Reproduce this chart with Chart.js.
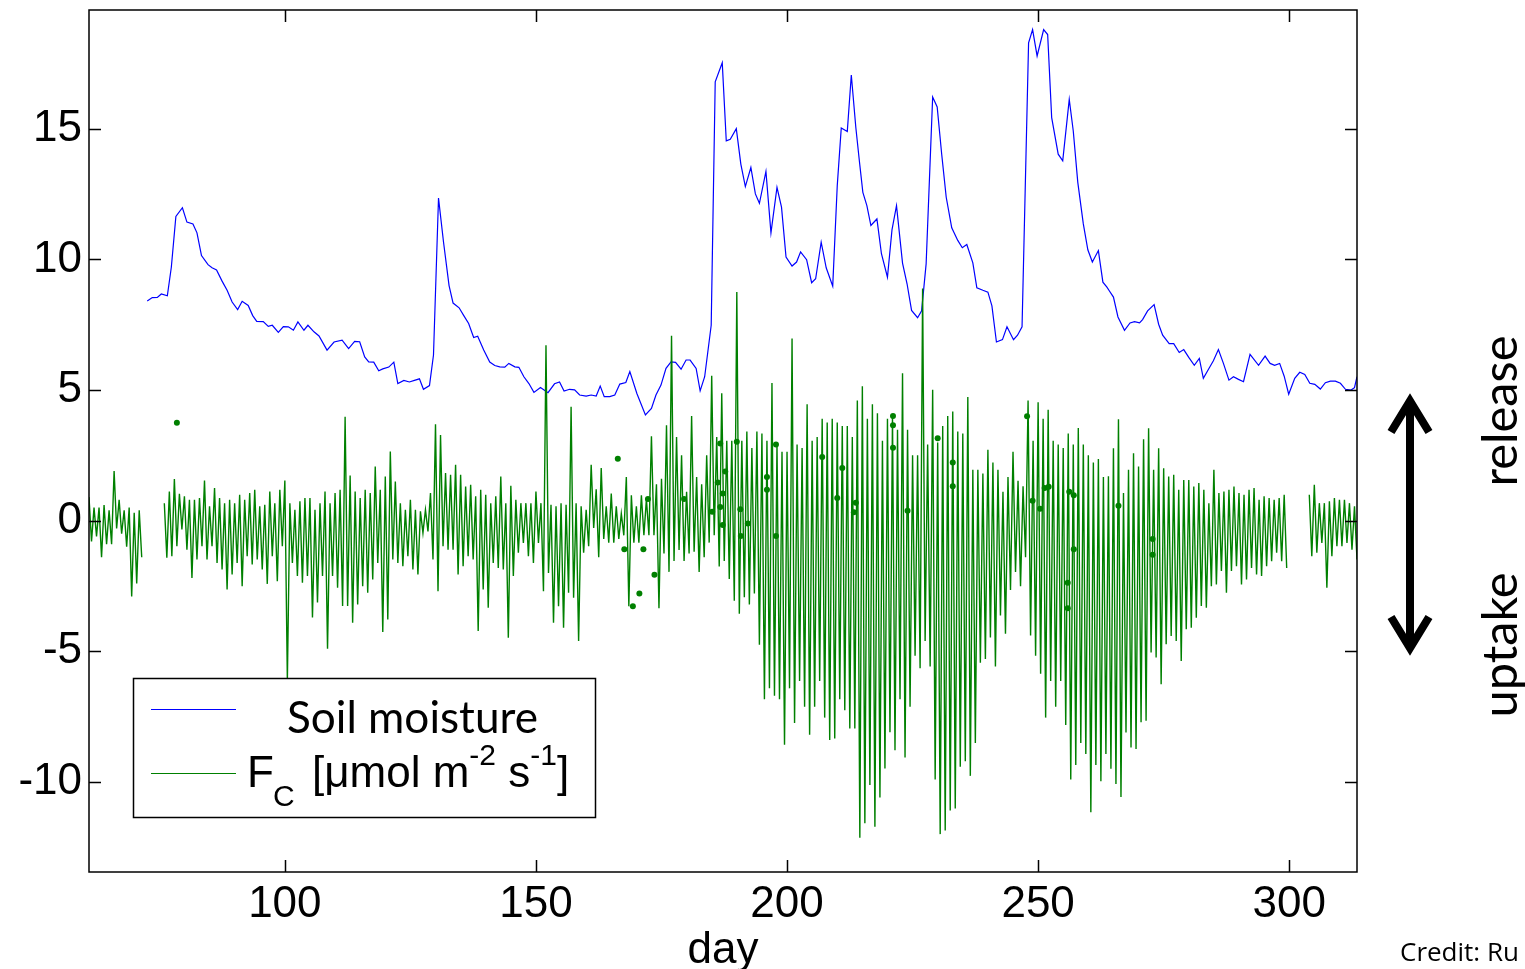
<!DOCTYPE html>
<html lang="en">
  <head>
    <meta charset="UTF-8" />
    <title>Soil moisture and Fc</title>
    <script src="https://cdn.jsdelivr.net/npm/chart.js@4.4.1/dist/chart.umd.min.js"></script>
    <style>
      body { margin: 0; background: #fff; }
      canvas { display: block; }
    </style>
  </head>
  <body>
    <canvas id="chart" width="1525" height="969"></canvas>
    <script>
      // axis ticks
      const xTicks = [100, 150, 200, 250, 300];
      const yTicks = [-10, -5, 0, 5, 10, 15];

      // soil moisture (day, value)
      const soilDay = [
        72.6, 73.6, 74.6, 75.4, 76.6, 77.4, 78.3, 79.6, 80.5, 81.7, 82.5, 83.4, 84.7, 85.5, 86.4, 87.5,
        88.5, 89.5, 90.6, 91.5, 92.7, 93.6, 94.4, 95.7, 96.7, 97.5, 98.7, 99.7, 100.7, 101.7, 102.6,
        103.8, 104.6, 105.8, 106.8, 108.4, 109.8, 111.4, 112.7, 113.9, 114.9, 115.9, 116.7, 117.7,
        118.7, 119.5, 120.7, 121.7, 122.5, 123.7, 124.8, 125.8, 126.8, 127.6, 128.8, 129.6, 130.6,
        131.6, 132.7, 133.5, 134.7, 135.6, 136.6, 137.6, 138.4, 139.6, 140.8, 141.8, 142.8, 143.8,
        144.6, 145.8, 146.6, 147.6, 148.6, 149.6, 150.9, 152.4, 153.7, 154.7, 155.6, 156.7, 157.7,
        158.7, 160.0, 161.0, 162.0, 162.8, 163.6, 164.7, 165.7, 166.7, 167.9, 168.7, 170.1, 171.8,
        173.0, 173.9, 174.9, 175.9, 176.9, 177.8, 178.9, 179.9, 180.7, 181.9, 182.7, 183.6, 184.9,
        185.7, 187.1, 187.9, 188.7, 189.9, 190.8, 191.7, 192.8, 193.7, 194.5, 195.8, 196.8, 198.0,
        198.9, 199.8, 201.0, 201.9, 202.7, 203.9, 204.9, 205.7, 206.8, 207.8, 209.1, 210.0, 210.8,
        212.0, 212.8, 213.7, 214.4, 215.1, 215.9, 216.7, 217.9, 218.8, 220.0, 220.9, 221.8, 223.0,
        223.9, 224.8, 226.0, 226.8, 227.7, 229.0, 229.9, 230.8, 231.7, 232.8, 234.0, 234.9, 235.8,
        237.0, 237.8, 239.0, 240.0, 240.8, 241.7, 242.9, 243.8, 245.1, 245.9, 246.8, 248.1, 248.9,
        249.8, 251.1, 251.9, 252.7, 254.0, 254.9, 256.2, 257.0, 257.9, 259.0, 259.9, 260.8, 262.0,
        262.9, 263.7, 264.1, 265.0, 265.9, 267.2, 268.3, 269.2, 270.2, 270.8, 271.8, 273.1, 274.0,
        274.8, 276.1, 277.0, 278.1, 279.0, 280.0, 281.1, 282.1, 282.9, 283.9, 284.9, 285.9, 286.9,
        288.0, 288.9, 289.9, 290.9, 292.2, 293.9, 295.2, 296.2, 297.1, 298.1, 299.0, 299.9, 301.1,
        302.1, 303.1, 304.1, 305.1, 306.2, 307.2, 308.2, 309.2, 310.2, 311.2, 312.3, 313.0, 313.5
      ];
      const soilMoisture = [
        8.41, 8.54, 8.55, 8.68, 8.61, 9.71, 11.65, 11.98, 11.43, 11.36, 11.02, 10.15, 9.8, 9.68, 9.6, 9.17,
        8.82, 8.37, 8.08, 8.4, 8.24, 7.85, 7.63, 7.62, 7.44, 7.48, 7.21, 7.43, 7.42, 7.29, 7.61,
        7.29, 7.48, 7.23, 7.07, 6.53, 6.84, 6.91, 6.59, 6.86, 6.85, 6.27, 6.08, 6.07,
        5.74, 5.81, 5.88, 6.07, 5.25, 5.37, 5.31, 5.37, 5.43, 5.03, 5.17, 6.34, 12.35,
        10.66, 9.0, 8.33, 8.15, 7.86, 7.55, 7.01, 7.06, 6.53, 6.07, 5.94, 5.89, 5.88,
        6.02, 5.89, 5.87, 5.51, 5.25, 4.91, 5.1, 4.9, 5.24, 5.31, 4.96, 5.03, 5.01,
        4.81, 4.77, 4.81, 4.77, 5.15, 4.75, 4.75, 4.81, 5.23, 5.29, 5.71, 4.87, 4.05,
        4.3, 4.81, 5.19, 5.83, 6.08, 6.06, 5.8, 6.15, 6.15, 5.83, 4.97, 5.51, 7.48,
        16.8, 17.53, 14.54, 14.6, 15.01, 13.65, 12.79, 13.52, 12.51, 12.15, 13.37, 11.02, 12.76,
        12.0, 10.09, 9.75, 9.9, 10.29, 9.99, 9.11, 9.26, 10.66, 9.68, 8.98, 12.82, 15.03,
        14.9, 17.06, 15.05, 13.78, 12.57, 12.06, 11.3, 11.55, 10.22, 9.32, 11.13, 12.06, 9.86,
        9.07, 8.05, 7.77, 8.03, 9.83, 16.22, 15.84, 14.03, 12.38, 11.21, 10.73, 10.45, 10.57,
        9.87, 8.91, 8.82, 8.75, 8.22, 6.84, 6.93, 7.42, 6.93, 7.1, 7.42, 18.29, 18.8,
        17.79, 18.8, 18.61, 15.43, 14.03, 13.78, 16.13, 14.92, 12.95, 11.36, 10.37, 9.9, 10.34,
        9.13, 8.94, 8.82, 8.56, 7.8, 7.29, 7.57, 7.62, 7.57, 7.7, 8.03, 8.27, 7.52,
        7.1, 6.78, 6.78, 6.44, 6.55, 6.25, 5.95, 6.21, 5.45, 5.79, 6.12, 6.55, 6.02,
        5.38, 5.51, 5.41, 5.32, 6.37, 5.95, 6.3, 6.02, 5.95, 6.02, 5.53, 4.84, 5.45,
        5.68, 5.6, 5.26, 5.22, 5.04, 5.28, 5.34, 5.34, 5.26, 5.03, 5.0, 5.09, 5.51
      ];

      // Fc: night-time high and daytime low for each day from fcFirstDay (null = no data)
      const fcFirstDay = 61;
      const fcHigh = [
        0.9, 0.5, 0.5, 0.6, 0.4, 1.9, 0.8, 0.4, 0.5, 0.3,
        0.4, null, null, null, null, 0.67, 1.12, 1.59, 1.03, 0.93,
        0.8, 0.8, 0.87, 1.54, 0.55, 1.25, 0.87, 0.67, 0.8, 0.67,
        0.99, 0.8, 1.06, 1.18, 0.55, 0.61, 1.12, 0.67, 1.18, 1.54,
        0.67, 0.42, 0.74, 0.87, 0.87, 0.42, 0.67, 1.12, 0.67, 1.06,
        1.18, 3.98, 1.73, 1.12, 0.87, 1.18, 1.06, 2.07, 1.18, 1.69,
        2.65, 1.5, 0.67, 0.42, 0.8, 0.42, 0.36, 0.42, 1.06, 3.69,
        3.28, 1.82, 1.76, 2.14, 1.76, 1.31, 1.37, 0.93, 1.18, 0.99,
        0.67, 0.93, 1.69, 0.67, 1.34, 0.8, 0.67, 0.67, 0.67, 1.12,
        0.67, 6.72, 0.61, 0.55, 0.67, 0.61, 4.36, 0.67, 0.55, 0.42,
        2.14, 1.2, 2.02, 0.55, 1.04, 0.55, 0.27, 1.67, 0.97, 0.55,
        0.97, 0.83, 3.23, 1.39, 1.6, 3.65, 7.08, 3.2, 2.5, 1.11,
        4.01, 1.67, 1.39, 2.5, 5.55, 3.2, 4.88, 3.06, 3.06, 8.75,
        3.06, 3.41, 2.78, 3.41, 3.34, 3.06, 5.27, 2.92, 2.64, 2.64,
        6.97, 2.92, 2.78, 4.46, 3.06, 3.2, 3.9, 3.76, 3.9, 3.76,
        3.62, 3.62, 3.2, 4.6, 5.15, 3.9, 4.46, 4.11, 3.06, 3.9,
        4.01, 3.48, 5.64, 3.48, 2.5, 2.5, 8.89, 2.92, 5.01, 2.99,
        3.62, 4.01, 4.18, 3.41, 3.34, 4.73, 1.95, 1.95, 1.81, 2.71,
        2.23, 1.95, 1.11, 1.67, 2.64, 1.53, 1.32, 4.6, 3.06, 4.53,
        3.9, 4.25, 3.06, 2.92, 2.78, 3.34, 2.92, 3.55, 2.92, 2.5,
        2.23, 2.36, 1.67, 1.7, 2.77, 3.88, 1.06, 1.95, 2.58, 2.07,
        3.12, 3.54, 1.95, 2.77, 2.01, 1.69, 1.76, 1.18, 1.56, 1.56,
        1.31, 1.44, 1.18, 0.67, 1.95, 1.06, 1.12, 1.18, 1.31, 1.06,
        0.99, 1.18, 1.25, 0.8, 0.93, 0.87, 0.8, 0.87, 0.99, null,
        null, null, null, 0.99, 1.37, 0.67, 0.67, 0.74, 0.87, 0.8,
        0.8, 0.67, 0.55
      ];
      const fcLow = [
        -0.8, -0.6, -1.4, -0.9, -0.9, -0.3, -0.5, -1.0, -2.9, -2.4,
        -1.4, null, null, null, null, -1.42, -1.36, -0.98, -0.34, -1.11,
        -2.19, -1.49, -0.98, -1.49, -0.98, -1.62, -1.87, -2.63, -2.06, -1.62,
        -2.51, -1.36, -1.68, -1.49, -1.87, -2.42, -1.36, -2.32, -0.98, -6.1,
        -1.62, -2.12, -2.38, -2.12, -3.71, -3.13, -2.12, -4.9, -2.12, -2.57,
        -3.27, -3.27, -3.91, -3.21, -2.51, -2.76, -2.25, -1.62, -4.26, -3.78,
        -1.49, -1.62, -1.74, -1.36, -1.87, -2.06, -0.47, -0.41, -1.49, -2.7,
        -0.98, -1.11, -1.11, -2.06, -1.74, -1.36, -1.49, -4.22, -2.63, -3.33,
        -1.62, -1.81, -1.87, -4.48, -2.12, -1.23, -0.85, -1.36, -1.62, -0.85,
        -2.7, -2.0, -3.91, -3.28, -4.1, -2.76, -2.95, -4.61, -1.23, -0.98,
        -0.28, -1.4, -0.7, -0.84, -0.84, -0.7, -0.56, -3.28, -0.84, -0.84,
        -0.56, -0.56, -0.56, -3.35, -1.26, -1.96, -1.54, -1.12, -1.54, -1.26,
        -1.19, -1.96, -1.4, -0.84, -0.56, -1.75, -1.54, -2.23, -3.07, -3.56,
        -2.93, -3.21, -2.79, -4.75, -6.84, -6.42, -6.7, -6.84, -8.58, -6.42,
        -7.75, -6.14, -7.12, -8.2, -7.12, -6.14, -7.54, -8.4, -8.34, -6.84,
        -7.26, -7.96, -7.96, -12.14, -11.58, -10.12, -11.72, -10.6, -9.49, -8.1,
        -8.79, -6.84, -9.07, -7.12, -5.17, -5.65, -4.61, -5.58, -9.91, -12.0,
        -11.86, -11.1, -11.02, -9.42, -9.21, -9.77, -8.51, -5.44, -5.3, -4.47,
        -5.58, -3.63, -4.33, -2.65, -1.96, -2.51, -1.4, -4.4, -5.17, -5.86,
        -7.54, -6.14, -7.12, -6.14, -7.82, -9.91, -9.35, -8.51, -8.93, -11.16,
        -9.35, -9.98, -8.93, -9.5, -10.08, -10.58, -8.11, -8.68, -8.74, -7.72,
        -7.66, -5.05, -5.24, -6.26, -4.73, -4.41, -4.61, -5.37, -4.16, -4.1,
        -3.72, -3.27, -3.33, -2.51, -2.44, -1.93, -2.76, -1.93, -1.74, -2.44,
        -2.25, -1.81, -2.06, -2.12, -1.74, -1.55, -1.23, -1.55, -1.81, null,
        null, null, null, -1.36, -1.23, -0.85, -2.57, -1.36, -0.98, -0.98,
        -0.85, -1.11, -1.49
      ];

      // isolated Fc samples shown as dots
      const fcDotDay = [
        78.5, 166.3, 172.3, 167.6, 171.4, 173.6, 170.6, 169.3, 179.5, 186.7, 186.2, 187.2, 186.7,
        187.7, 185.1, 187.2, 190.0, 190.7, 192.2, 190.8, 196.0, 196.0, 197.8, 197.8, 207.0, 211.0,
        210.0, 213.3, 221.1, 221.1, 221.1, 213.7, 224.0, 230.0, 233.0, 233.0, 247.8, 251.3, 252.1,
        248.9, 250.4, 256.2, 257.1, 257.1, 255.9, 255.9, 266.0, 272.8, 272.8
      ];
      const fcDotValue = [
        3.75, 2.37, 0.83, -1.09, -1.09, -2.07, -2.79, -3.28, 0.83, 2.95, 1.46, 1.04, 0.52,
        1.88, 0.34, -0.17, 3.02, 0.44, -0.11, -0.59, 1.67, 1.18, 2.92, -0.59, 2.44, 2.02,
        0.87, 0.32, 4.01, 3.65, 2.79, 0.69, 0.38, 3.16, 2.23, 1.32, 4.0, 1.25, 1.3,
        0.76, 0.46, 1.11, 0.97, -1.09, -2.38, -3.35, 0.57, -0.7, -1.3
      ];

      const blue = "rgb(0, 0, 255)";
      const green = "rgb(0, 128, 0)";
      const sansArial = "'Liberation Sans', Arial, sans-serif";
      const sansSoft = "Lato, 'Open Sans', sans-serif";

      const soilPoints = soilDay.map((d, i) => ({ x: d, y: soilMoisture[i] }));
      const fcPoints = [];
      fcHigh.forEach((hi, i) => {
        const d = fcFirstDay + i;
        if (hi === null) {
          fcPoints.push({ x: d, y: null });
          return;
        }
        fcPoints.push({ x: d, y: hi });
        fcPoints.push({ x: d + 0.5, y: fcLow[i] });
      });
      const dotPoints = fcDotDay.map((d, i) => ({ x: d, y: fcDotValue[i] }));

      function fitSize(ctx, text, family, width) {
        ctx.font = "100px " + family;
        return (100 * width) / ctx.measureText(text).width;
      }

      const decorations = {
        id: "decorations",
        beforeDraw(chart) {
          const ctx = chart.ctx;
          ctx.save();
          ctx.fillStyle = "#fff";
          ctx.fillRect(0, 0, chart.width, chart.height);
          ctx.restore();
        },
        afterDraw(chart) {
          const ctx = chart.ctx;
          const { left, right, top, bottom } = chart.chartArea;
          const xs = chart.scales.x;
          const ys = chart.scales.y;
          const tl = 12;

          ctx.save();
          ctx.strokeStyle = "#000";
          ctx.lineWidth = 1.5;
          ctx.strokeRect(left, top, right - left, bottom - top);

          ctx.beginPath();
          xTicks.forEach((v) => {
            const px = Math.round(xs.getPixelForValue(v)) + 0.5;
            ctx.moveTo(px, bottom);
            ctx.lineTo(px, bottom - tl);
            ctx.moveTo(px, top);
            ctx.lineTo(px, top + tl);
          });
          yTicks.forEach((v) => {
            const py = Math.round(ys.getPixelForValue(v)) + 0.5;
            ctx.moveTo(left, py);
            ctx.lineTo(left + tl, py);
            ctx.moveTo(right, py);
            ctx.lineTo(right - tl, py);
          });
          ctx.stroke();

          // legend
          ctx.fillStyle = "#fff";
          ctx.fillRect(133, 678, 463, 139);
          ctx.lineWidth = 1.5;
          ctx.strokeRect(133.5, 678.5, 462, 139);
          ctx.lineWidth = 1;
          ctx.strokeStyle = blue;
          ctx.beginPath();
          ctx.moveTo(151, 709.5);
          ctx.lineTo(236, 709.5);
          ctx.stroke();
          ctx.strokeStyle = green;
          ctx.beginPath();
          ctx.moveTo(151, 773.5);
          ctx.lineTo(236, 773.5);
          ctx.stroke();

          ctx.fillStyle = "#000";
          ctx.textAlign = "left";
          ctx.textBaseline = "alphabetic";
          const soilSize = fitSize(ctx, "Soil moisture", sansSoft, 251);
          ctx.font = soilSize + "px " + sansSoft;
          ctx.fillText("Soil moisture", 287, 733);

          const big = "44px " + sansArial;
          const small = "30px " + sansArial;
          ctx.font = big;
          ctx.fillText("F", 247, 787);
          const fw = ctx.measureText("F").width;
          ctx.font = small;
          ctx.fillText("C", 247 + fw - 1, 806);
          let x = 312;
          const parts = [
            ["[\u03bcmol m", big, 787],
            ["-2", small, 765],
            [" s", big, 787],
            ["-1", small, 765],
            ["]", big, 787],
          ];
          parts.forEach(([t, f, y]) => {
            ctx.font = f;
            ctx.fillText(t, x, y);
            x += ctx.measureText(t).width;
          });

          // release / uptake arrow
          ctx.strokeStyle = "#000";
          ctx.lineWidth = 8;
          ctx.lineJoin = "miter";
          ctx.lineCap = "butt";
          ctx.beginPath();
          ctx.moveTo(1410, 401);
          ctx.lineTo(1410, 648);
          ctx.moveTo(1391, 432);
          ctx.lineTo(1410, 401);
          ctx.lineTo(1429, 432);
          ctx.moveTo(1391, 617);
          ctx.lineTo(1410, 648);
          ctx.lineTo(1429, 617);
          ctx.stroke();

          const sideSize = fitSize(ctx, "release", sansSoft, 151);
          ctx.font = sideSize + "px " + sansSoft;
          ctx.textAlign = "center";
          [["release", 411], ["uptake", 645]].forEach(([t, cy]) => {
            ctx.save();
            ctx.translate(1517, cy);
            ctx.rotate(-Math.PI / 2);
            ctx.fillText(t, 0, 0);
            ctx.restore();
          });

          ctx.textAlign = "left";
          ctx.font = "26px 'Open Sans', sans-serif";
          ctx.fillText("Credit: Ru", 1400, 961);
          ctx.restore();
        },
      };

      new Chart(document.getElementById("chart"), {
        type: "line",
        data: {
          datasets: [
            {
              type: "scatter",
              label: "Fc isolated",
              data: dotPoints,
              showLine: false,
              pointRadius: 3,
              pointBackgroundColor: green,
              pointBorderWidth: 0,
              order: 0,
            },
            {
              label: "Fc",
              data: fcPoints,
              borderColor: green,
              borderWidth: 1.4,
              pointRadius: 0,
              tension: 0,
              spanGaps: false,
              order: 1,
            },
            {
              label: "Soil moisture",
              data: soilPoints,
              borderColor: blue,
              borderWidth: 1.2,
              pointRadius: 0,
              tension: 0,
              order: 2,
            },
          ],
        },
        options: {
          responsive: false,
          animation: false,
          devicePixelRatio: 1,
          layout: { padding: { left: 0, right: 168, top: 10, bottom: 0 } },
          plugins: { legend: { display: false }, tooltip: { enabled: false } },
          scales: {
            x: {
              type: "linear",
              min: 61,
              max: 313.5,
              grid: { display: false, drawTicks: false },
              border: { display: false },
              afterBuildTicks: (s) => {
                s.ticks = xTicks.map((v) => ({ value: v }));
              },
              afterFit: (s) => {
                s.height = 97;
                s.paddingLeft = 0;
                s.paddingRight = 0;
              },
              ticks: {
                color: "#000",
                font: { family: sansArial, size: 44 },
                padding: 6,
                maxRotation: 0,
                autoSkip: false,
              },
              title: {
                display: true,
                text: "day",
                color: "#000",
                font: { family: sansArial, size: 44, lineHeight: 0.8 },
                padding: { top: 0, bottom: 1 },
              },
            },
            y: {
              type: "linear",
              min: -13.45,
              max: 19.55,
              grid: { display: false, drawTicks: false },
              border: { display: false },
              afterBuildTicks: (s) => {
                s.ticks = yTicks.map((v) => ({ value: v }));
              },
              afterFit: (s) => {
                s.width = 89;
                s.paddingTop = 0;
                s.paddingBottom = 0;
              },
              ticks: {
                color: "#000",
                font: { family: sansArial, size: 44 },
                padding: 7,
                autoSkip: false,
              },
            },
          },
        },
        plugins: [decorations],
      });
    </script>
  </body>
</html>
